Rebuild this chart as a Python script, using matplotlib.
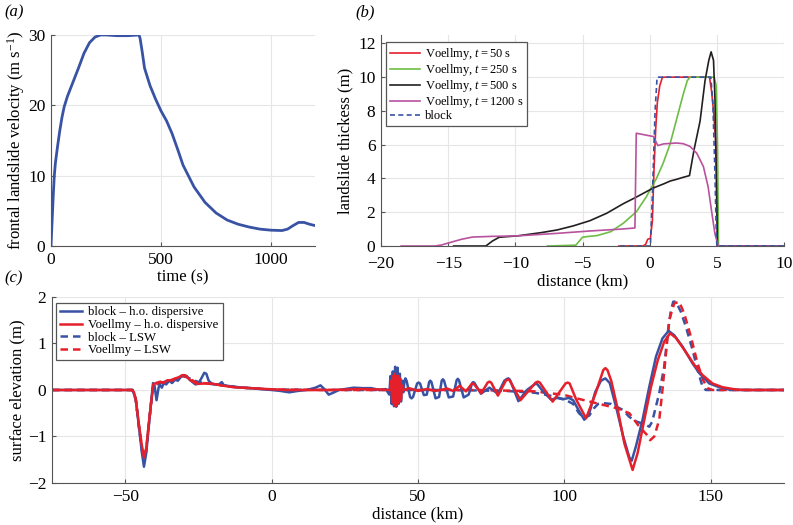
import matplotlib
matplotlib.use('Agg')
import matplotlib.pyplot as plt

plt.rcParams['font.family'] = ['Liberation Serif', 'DejaVu Serif']
plt.rcParams['mathtext.fontset'] = 'custom'
plt.rcParams['mathtext.rm'] = 'Liberation Serif'
plt.rcParams['mathtext.it'] = 'Liberation Serif:italic'
plt.rcParams['font.size'] = 11

# (a) frontal landslide velocity
time_s = [0, 5, 10, 15, 20, 30, 40, 50, 60, 75, 100, 125, 150, 175, 200, 225, 250, 300, 350, 400,
          405, 415, 425, 450, 475, 500, 525, 550, 575, 600, 650, 700, 750, 800, 850, 900, 950,
          1000, 1050, 1075, 1100, 1125, 1150, 1175, 1200]
velocity = [0, 3.5, 7, 10, 11.8, 14.2, 16.4, 18.3, 19.8, 21.3, 23.3, 25.3, 27.4, 28.9, 29.7, 30, 30, 29.9, 29.9, 30,
            29.5, 27.5, 25.3, 22.8, 20.9, 19.2, 17.8, 16.0, 13.8, 11.5, 8.4, 6.2, 4.7, 3.7, 3.1, 2.7, 2.4,
            2.25, 2.2, 2.4, 2.9, 3.35, 3.35, 3.1, 2.9]

# (b) landslide thickness profiles
t50_x = [-2.3, -0.5, -0.3, -0.15, 0.05, 0.2, 0.32, 0.45, 0.57, 0.75, 0.95, 4.45, 4.6, 4.75, 4.9, 5.0, 5.08, 10]
t50_h = [0, 0, 0.1, 0.4, 0.45, 1.5, 4.5, 7, 8.5, 9.5, 10, 10, 9.2, 8, 6.3, 4, 0, 0]

t250_x = [-7.6, -5.5, -5.0, -4.65, -3.9, -2.9, -1.98, -0.99, -0.25, 0.5, 1.0, 1.5, 2.0, 2.5, 2.8, 3.0,
          4.8, 4.95, 5.05, 5.12, 10]
t250_h = [0, 0.05, 0.52, 0.56, 0.62, 0.85, 1.34, 2.03, 2.92, 4.0, 4.9, 6.0, 7.5, 9.0, 9.8, 10,
          10, 9.5, 6, 0, 0]

t500_x = [-14.6, -12.2, -11.7, -11.2, -9.85, -8.1, -6.9, -5.7, -4.45, -3.2, -1.98, -0.99, 0.25, 1.04,
          1.53, 2.0, 2.5, 2.96, 3.3, 3.75, 4.12, 4.4, 4.57, 4.75, 4.86, 4.95, 5.04, 10]
t500_h = [0, 0, 0.3, 0.52, 0.6, 0.79, 0.95, 1.19, 1.5, 1.94, 2.5, 2.9, 3.43, 3.68,
          3.85, 3.95, 4.07, 4.17, 5.7, 7.4, 9.8, 11.0, 11.5, 11.0, 8.65, 4.5, 0, 0]

t1200_x = [-18.5, -16.0, -15.5, -14.9, -14.0, -13.2, -11.8, -9.85, -6.9, -4.45, -1.98, -1.1, -1.0,
           0.3, 0.45, 0.6, 1.04, 2.0, 2.5, 3.0, 3.5, 4.0, 4.35, 4.6, 4.85, 5.1, 10]
t1200_h = [0, 0, 0.06, 0.2, 0.4, 0.53, 0.57, 0.6, 0.75, 0.89, 1.01, 1.07, 6.68,
           6.48, 6.2, 5.95, 6.05, 6.1, 6.06, 5.9, 5.5, 4.7, 3.5, 2.1, 0.75, 0, 0]

block_x = [-2.2, 0.05, 0.2, 0.4, 0.55, 4.55, 4.7, 4.85, 4.95, 5.0, 10]
block_h = [0, 0, 3, 8, 10, 10, 8.5, 4.5, 1, 0, 0]

# (c) surface elevation
bho_x = [-75, -48, -47.5, -46.4, -45.3, -44.3, -43.6, -42.8, -42.0, -41.2, -40.5, -40.0, -39.3, -38.6,
         -38.2, -37.5, -36.8, -36, -35, -34, -33, -32, -31, -30, -29, -28, -27, -26, -25, -24, -23,
         -22.3, -21.5, -20.5, -19.5, -18, -17, -16.3, -14, -12, -10, -7, -4, 0, 3, 6, 9, 12, 15, 16.7,
         18, 19.5, 21, 23, 26, 28, 31, 34, 37, 39, 40.2, 40.6, 41.0, 41.4, 41.8, 42.2, 42.6, 43.0,
         43.4, 43.8, 44.2, 44.6, 45.0, 45.4, 45.7, 46.1, 47.3, 47.8, 48.3, 49.7, 50.2, 50.7, 52.0, 53.0,
         53.8, 54.2, 54.6, 56.0, 57.2, 58.1, 58.5, 58.9, 60.5, 62.0, 63.2, 63.6, 64.0, 65.6, 67.3,
         68.5, 68.9, 69.3, 71.5, 74.4, 77.3, 79.5, 80.4, 80.9, 81.4, 84.3, 87.2, 89.8, 90.3, 90.8,
         93, 95.5, 97.5, 99.5, 101.5, 103, 105, 106.8,
         108.5, 110.5, 112.5, 114, 115.5, 117.8, 120.1, 122.2, 123, 124.4, 126.7, 129, 131.3, 133.5,
         135.6, 137.5, 140.4, 143.8, 146.1, 149.5, 152.9, 156.3, 160, 175]
bho_y = [0, 0, 0, -0.2, -0.8, -1.35, -1.65, -1.35, -0.8, -0.3, 0.15, 0.1, -0.22, 0.05,
         0.12, 0.05, 0.15, 0.12, 0.2, 0.15, 0.22, 0.2, 0.28, 0.32, 0.3, 0.22, 0.17, 0.12, 0.14, 0.25, 0.37,
         0.35, 0.2, 0.14, 0.12, 0.12, 0.17, 0.1, 0.08, 0.06, 0.05, 0.04, 0.02, 0, -0.02, -0.05, -0.02, 0, 0.05, 0.1,
         0.02, -0.1, -0.06, 0, 0.03, 0.05, 0.04, 0.04, 0, 0.02, -0.1, 0.3, -0.3, 0.4, -0.35, 0.5, -0.36, 0.48,
         -0.3, 0.35, -0.25, 0.2, -0.05, 0.2, 0.25, 0.2, -0.15, -0.18, -0.15, 0.14, 0.16, 0.14, -0.11, -0.1,
         0.17, 0.2, 0.17, -0.18, -0.15, 0.2, 0.23, 0.2, -0.16, -0.14, 0.21, 0.24, 0.21, -0.16, -0.1,
         0.15, 0.17, 0.15, -0.08, 0.05, -0.08, 0.2, 0.24, 0.25, 0.22, -0.24, 0.0, 0.12, 0.14, 0.12,
         -0.05, -0.21, -0.17, -0.2, -0.17, -0.22, -0.45, -0.64,
         -0.5, -0.05, 0.2, 0.25, 0.15, -0.4, -1.0, -1.45, -1.52, -1.22, -0.64, 0.07, 0.72, 1.11,
         1.27, 1.18, 0.93, 0.57, 0.36, 0.14, 0.06, 0.01, 0, 0]

vho_x = [-75, -47.8, -47, -46.4, -45.3, -44.3, -43.6, -42.8, -42, -41.2, -40.4, -39.5, -38, -37, -35.6,
         -34, -32.8, -31.5, -30.5, -29.4, -27.7, -25.4, -23.1, -21, -19.7, -16.3, -12.9, -7.2, -1.5, 5,
         20, 30, 38, 40.5, 40.9, 41.2, 41.5, 41.8, 42.1, 42.4, 42.7, 43, 43.3, 43.6, 43.9, 44.2, 44.5,
         45, 47, 50, 53, 56, 60, 62, 64.2, 66.4, 68.2, 68.7, 69.2, 71.6, 73.8, 74.4, 75.0, 77.3, 80.0,
         80.7, 81.4, 85, 90.2, 90.9, 91.6, 96, 100.4, 101.1, 101.8,
         104, 107.4, 110.5, 113.3, 114, 114.7, 116, 118, 120.5, 123.3, 125, 127.3, 129.6, 131.9, 134.1, 136.1, 138.1,
         141, 144.4, 147.2, 150.6, 154, 158.6, 162, 175]
vho_y = [0, 0, -0.05, -0.2, -0.75, -1.2, -1.45, -1.25, -0.75, -0.3, 0.12, 0.15, 0.18, 0.15, 0.21,
         0.2, 0.25, 0.28, 0.32, 0.31, 0.21, 0.13, 0.14, 0.14, 0.13, 0.09, 0.06, 0.04, 0.02, 0,
         0, 0.02, 0.01, 0, 0.2, -0.25, 0.3, -0.3, 0.35, -0.35, 0.3, -0.3, 0.3, -0.25, 0.25, -0.2, 0.1,
         0, 0.04, -0.02, 0.02, -0.02, 0.03, -0.02, 0.09, -0.03, 0.12, 0.14, 0.12, -0.07, 0.16, 0.18, 0.16, -0.12, 0.2,
         0.23, 0.2, -0.22, 0.16, 0.18, 0.16, -0.25, 0.14, 0.16, 0.14,
         -0.2, -0.61, -0.1, 0.43, 0.47, 0.43, 0.2, -0.35, -1.15, -1.72, -1.36, -0.64, 0.07, 0.64, 1.04, 1.22, 1.12,
         0.86, 0.54, 0.32, 0.14, 0.06, 0.01, 0, 0]

blsw_x = [-75, -47.5, -46.4, -45.3, -44.3, -43.6, -42.8, -42, -41.2, -40.4, -38, -35, -32, -30, -28, -25,
          -22, -18, -14, -10, -5, 0, 20, 60, 80, 90, 95, 100, 103, 105, 106.8, 108.5, 110, 111.5, 113,
          116, 120, 122.2, 124.7, 127.9, 129, 130, 130.7, 132.4, 134.1, 135.3, 136.4, 137.2, 138.1,
          139.8, 141.5, 143.8, 145.5, 147.2, 148.3, 175]
blsw_y = [0, 0, -0.2, -0.8, -1.3, -1.55, -1.3, -0.8, -0.3, 0.1, 0.15, 0.2, 0.25, 0.3, 0.25, 0.17,
          0.14, 0.11, 0.08, 0.05, 0.03, 0.01, 0, 0, -0.02, -0.06, -0.12, -0.2, -0.3, -0.5, -0.6, -0.55, -0.4, -0.3, -0.28,
          -0.3, -0.43, -0.58, -0.68, -0.75, -0.79, -0.68, -0.5, -0.07, 0.5, 1.22, 1.72, 1.9, 1.9,
          1.68, 1.36, 0.86, 0.43, 0.07, 0, 0]

vlsw_x = [-75, -47.5, -46.4, -45.3, -44.3, -43.6, -42.8, -42, -41.2, -40.4, -37, -34, -31, -29, -26, -22,
          -18, -14, -10, -5, 0, 20, 70, 85, 90, 95, 99.6, 104.2, 108.7, 113.3, 117.8, 122.2, 125.6, 128,
          129.3, 130.7, 132.4, 133.5, 134.7, 135.8, 137.5, 139.2, 140.9, 143.2, 145.5, 147.4, 148.9, 150.6, 175]
vlsw_y = [0, 0, -0.2, -0.78, -1.25, -1.45, -1.25, -0.78, -0.3, 0.1, 0.17, 0.22, 0.3, 0.28, 0.17, 0.14,
          0.11, 0.07, 0.05, 0.03, 0.01, 0, 0, -0.02, -0.03, -0.07, -0.1, -0.18, -0.25, -0.32, -0.39, -0.5, -0.79, -0.95,
          -1.08, -1.0, -0.64, 0, 0.79, 1.5, 1.86, 1.9, 1.65, 1.15, 0.57, 0.21, 0.04, 0, 0]

blue = '#3953a4'
red = '#e6202b'
green = '#6dbd45'
black = '#231f20'
magenta = '#b8529e'
gridc = '#e6e6e6'


def style(ax):
    ax.grid(True, color=gridc, linewidth=0.8)
    ax.set_axisbelow(True)
    for s in ['top', 'right']:
        ax.spines[s].set_visible(False)
    for s in ['left', 'bottom']:
        ax.spines[s].set_color('#555555')
        ax.spines[s].set_linewidth(0.8)
    ax.tick_params(direction='in', length=3, color='#555555', labelsize=12.5, pad=4)


fig = plt.figure(figsize=(7.93, 5.25), dpi=100)

ax1 = fig.add_axes([0.0643, 0.5314, 0.333, 0.402])
ax1.plot(time_s, velocity, color=blue, lw=2)
ax1.set_xlim(0, 1200)
ax1.set_ylim(0, 30)
ax1.set_xticks([0, 500, 1000])
ax1.set_yticks([0, 10, 20, 30])
ax1.set_xlabel('time (s)', fontsize=12, labelpad=1)
ax1.set_ylabel('frontal landslide velocity (m s$^{-1}$)', fontsize=12, labelpad=1)
style(ax1)

ax2 = fig.add_axes([0.4805, 0.5314, 0.5082, 0.402])
ax2.plot(t50_x, t50_h, color=red, lw=1.2, label='Voellmy, $t = 50$ s')
ax2.plot(t250_x, t250_h, color=green, lw=1.2, label='Voellmy, $t = 250$ s')
ax2.plot(t500_x, t500_h, color=black, lw=1.2, label='Voellmy, $t = 500$ s')
ax2.plot(t1200_x, t1200_h, color=magenta, lw=1.2, label='Voellmy, $t = 1200$ s')
ax2.plot(block_x, block_h, color=blue, lw=1.2, ls=(0, (3, 2)), label='block')
ax2.set_xlim(-20, 10)
ax2.set_ylim(0, 12.5)
ax2.set_xticks([-20, -15, -10, -5, 0, 5, 10])
ax2.set_yticks([0, 2, 4, 6, 8, 10, 12])
ax2.set_xlabel('distance (km)', fontsize=12, labelpad=1)
ax2.set_ylabel('landslide thickess (m)', fontsize=12, labelpad=3)
style(ax2)
ax2.tick_params(axis='x', pad=7)
leg = ax2.legend(loc='upper left', bbox_to_anchor=(0.012, 0.965), fontsize=9, fancybox=False,
                 edgecolor='#555555', framealpha=1, handlelength=2.4, handletextpad=0.4,
                 labelspacing=0.0, borderpad=0.3, borderaxespad=0)
leg.get_frame().set_linewidth(0.9)

ax3 = fig.add_axes([0.0656, 0.08, 0.923, 0.3543])
l3, = ax3.plot(blsw_x, blsw_y, color=blue, lw=1.8, ls=(0, (3, 2)))
l4, = ax3.plot(vlsw_x, vlsw_y, color=red, lw=1.8, ls=(0, (3, 2)))
l1, = ax3.plot(bho_x, bho_y, color=blue, lw=1.8)
l2, = ax3.plot(vho_x, vho_y, color=red, lw=1.8)
ax3.set_xlim(-75, 175)
ax3.set_ylim(-2, 2)
ax3.set_xticks([-50, 0, 50, 100, 150])
ax3.set_yticks([-2, -1, 0, 1, 2])
ax3.set_xlabel('distance (km)', fontsize=12, labelpad=1)
ax3.set_ylabel('surface elevation (m)', fontsize=12, labelpad=2)
style(ax3)
leg3 = ax3.legend([l1, l2, l3, l4],
                  ['block \u2013 h.o. dispersive', 'Voellmy \u2013 h.o. dispersive',
                   'block \u2013 LSW', 'Voellmy \u2013 LSW'],
                  loc='upper left', bbox_to_anchor=(0.006, 0.97), fontsize=9.2, fancybox=False,
                  edgecolor='#555555', framealpha=1, handlelength=1.7, handletextpad=0.5,
                  labelspacing=0.05, borderpad=0.3, borderaxespad=0)
leg3.get_frame().set_linewidth(0.9)

fig.text(0.006, 0.977, '(a)', fontsize=12, style='italic', va='center')
fig.text(0.448, 0.977, '(b)', fontsize=12, style='italic', va='center')
fig.text(0.006, 0.47, '(c)', fontsize=12, style='italic', va='center')

fig.savefig('out.png', dpi=100)
